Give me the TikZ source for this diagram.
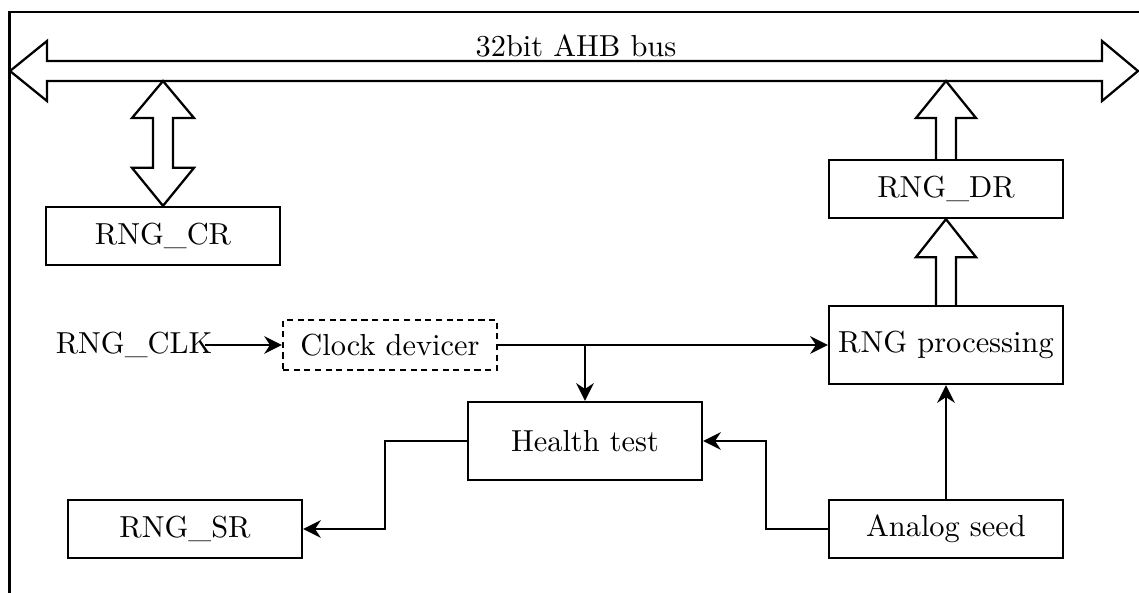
\documentclass[tikz,border=0pt]{standalone}
\usepackage{tikz}
\usetikzlibrary{calc,arrows.meta}
\tikzstyle{rngdiag}=[
  >={Stealth[length=5.8pt,width=5.8pt]}, line width=0.75pt, x=0.329pt, y=0.329pt
]
\tikzstyle{regnode}=[
  draw, rectangle, inner sep=2pt, minimum width=77pt, minimum height=19.1pt
]
\tikzstyle{blocknode}=[
  draw, rectangle, inner sep=2pt, minimum width=77pt, minimum height=25.7pt
]
\tikzstyle{clknode}=[
  draw, dash pattern=on 2pt off 1.5pt, inner sep=2pt, minimum width=70.4pt, minimum height=16.5pt
]
\tikzstyle{fatarrow}=[
  line width=0.75pt, line join=miter
]

\begin{document}
\begin{tikzpicture}[rngdiag]
    \clip (0,0) rectangle (1139,-592);
    \draw (9.5,-12) rectangle (1160,-610);
    % bus
    \coordinate (busL) at (10,-71);
    \coordinate (busR) at (1138,-71);
    \node (buslabel) at (576,-46) {32bit AHB bus};
    \draw [fatarrow] (busL) -- ++(37,30) -- ++(0,-20) -- ($(busR)+(-36,10)$) -- ++(0,20) -- (busR)
      -- ++(-36,-30) -- ++(0,20) -- ($(busL)+(37,-10)$) -- ++(0,-20) -- cycle;
    % blocks
    \node (cr) at (163,-236) [regnode] {RNG\_CR};
    \node (dr) at (946,-189) [regnode] {RNG\_DR};
    \node (proc) at (946,-345) [blocknode] {RNG processing};
    \node (clock) at (390,-345) [clknode] {Clock devicer};
    \node (clkin) at (134,-345) [inner sep=0pt] {RNG\_CLK};
    \node (health) at (585,-441) [blocknode] {Health test};
    \node (sr) at (185,-529) [regnode] {RNG\_SR};
    \node (analog) at (946,-529) [regnode] {Analog seed};
    % register arrows
    \coordinate (crtip) at ($(cr.north |- busL)+(0,-10)$);
    \draw [fatarrow] (crtip) -- ++(31,-37) -- ++(-21,0) -- ($(cr.north)+(10,38)$) -- ++(21,0) -- (cr.north)
      -- ++(-31,38) -- ++(21,0) -- ($(crtip)+(-10,-37)$) -- ++(-21,0) -- cycle;
    \coordinate (drtip) at ($(dr.north |- busL)+(0,-10)$);
    \draw [fatarrow] ($(dr.north)+(-10,0)$) -- ($(drtip)+(-10,-37)$) -- ++(-20,0) -- (drtip)
      -- ++(30,-37) -- ++(-20,0) -- ($(dr.north)+(10,0)$);
    \draw [fatarrow] ($(proc.north)+(-10,0)$) -- ($(dr.south)+(-10,-38)$) -- ++(-20,0) -- (dr.south)
      -- ++(30,-38) -- ++(-20,0) -- ($(proc.north)+(10,0)$);
    % signals
    \coordinate (clkfrom) at ($(clkin.east)+(-8,0)$);
    \draw [->] (clkfrom) -- (clock);
    \draw [->] (clock) -- (proc);
    \coordinate (split) at (health.north |- clock.east);
    \draw [->] (split) -- (health);
    \draw [->] (health.west) -- ++(-82,0) |- (sr.east);
    \draw [->] (analog.west) -- ++(-62,0) |- (health.east);
    \draw [->] (analog) -- (proc);
\end{tikzpicture}
\end{document}
